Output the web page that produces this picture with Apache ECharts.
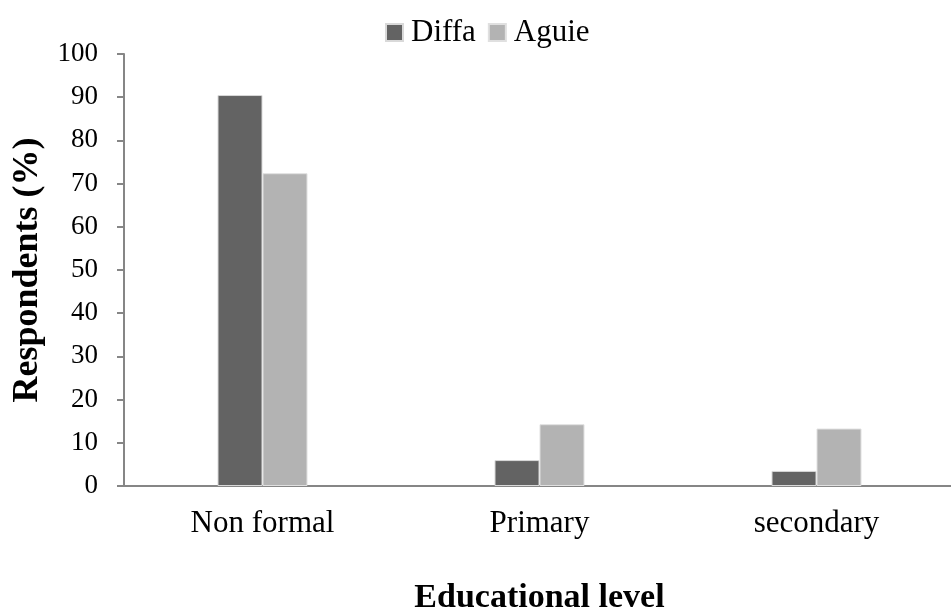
<!DOCTYPE html>
<html>
<head>
<meta charset="utf-8">
<title>Educational level</title>
<script src="https://cdn.jsdelivr.net/npm/echarts@6/dist/echarts.min.js"></script>
<style>
  html, body { margin: 0; padding: 0; background: #fff; }
  #main { width: 951px; height: 611px; }
</style>
</head>
<body>
<div id="main"></div>
<script>
var categories = ['Non formal', 'Primary', 'secondary'];
var diffa = [90.5, 6.0, 3.5];
var aguie = [72.4, 14.3, 13.3];
var yTicks = [0, 100, 10]; // min, max, step

var serif = '"Liberation Serif", "DejaVu Serif", serif';
var chart = echarts.init(document.getElementById('main'));

var option = {
  animation: false,
  legend: {
    left: 380,
    top: 12,
    itemWidth: 17,
    itemHeight: 17,
    itemGap: 12,
    icon: 'rect',
    textStyle: { fontFamily: serif, fontSize: 31, color: '#000', padding: [0, 0, 0, 3] },
    data: ['Diffa', 'Aguie']
  },
  grid: { left: 124, right: -4, top: 54, bottom: 125, containLabel: false, outerBoundsMode: 'none' },
  xAxis: {
    type: 'category',
    data: categories,
    name: 'Educational level',
    nameLocation: 'middle',
    nameGap: 95,
    nameTextStyle: { fontFamily: serif, fontSize: 34, fontWeight: 'bold', color: '#000' },
    axisLine: { lineStyle: { color: '#868686', width: 2 } },
    axisTick: { length: 9, lineStyle: { color: '#868686', width: 2 } },
    axisLabel: { fontFamily: serif, fontSize: 31, color: '#000', margin: 22 }
  },
  yAxis: {
    type: 'value',
    min: yTicks[0],
    max: yTicks[1],
    interval: yTicks[2],
    name: 'Respondents (%)',
    nameLocation: 'middle',
    nameGap: 78,
    nameTextStyle: { fontFamily: serif, fontSize: 36, fontWeight: 'bold', color: '#000' },
    axisLine: { show: true, lineStyle: { color: '#868686', width: 2 } },
    axisTick: { show: true, length: 7, lineStyle: { color: '#868686', width: 2 } },
    axisLabel: { fontFamily: serif, fontSize: 27, color: '#000', margin: 26 },
    splitLine: { show: false }
  },
  series: [
    {
      name: 'Diffa',
      type: 'bar',
      data: diffa,
      barWidth: 45,
      barGap: '0%',
      itemStyle: { color: '#636363', borderColor: '#d9d9d9', borderWidth: 1 }
    },
    {
      name: 'Aguie',
      type: 'bar',
      data: aguie,
      barWidth: 45,
      itemStyle: { color: '#b3b3b3', borderColor: '#e0e0e0', borderWidth: 1 }
    }
  ]
};

chart.setOption(option);
</script>
</body>
</html>
